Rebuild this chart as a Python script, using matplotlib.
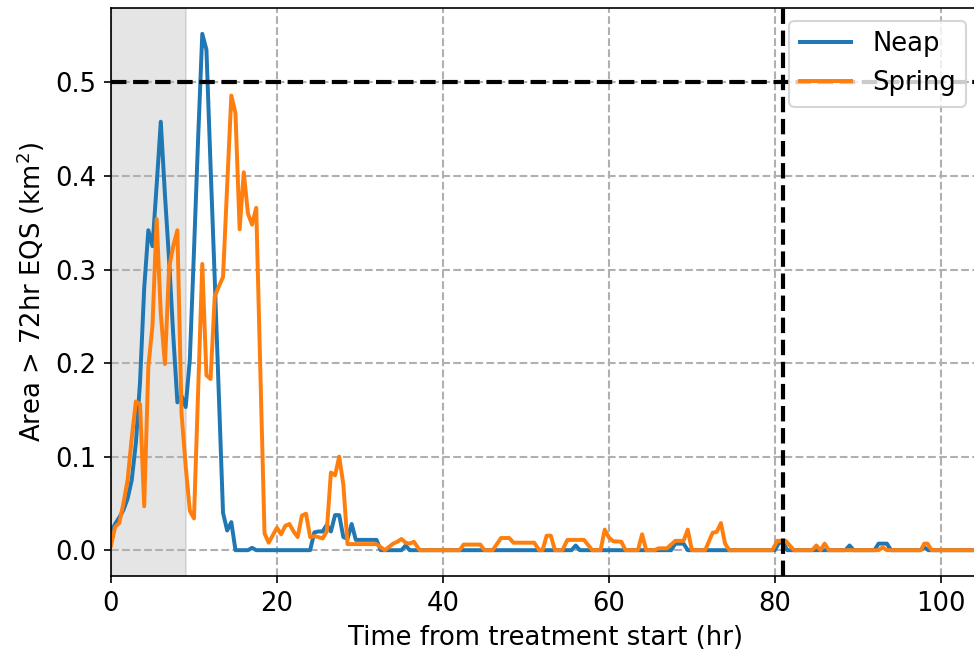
import matplotlib
matplotlib.use("Agg")
import matplotlib.pyplot as plt

# ---- data ----
neap_t = [0.0, 0.5, 1.0, 1.5, 2.0, 2.5, 3.0, 3.5, 4.0, 4.5, 5.0, 5.5, 6.0, 6.5, 7.0,
          7.5, 8.0, 8.5, 9.0, 9.5, 10.0, 10.5, 11.0, 11.5, 12.0, 12.5, 13.0, 13.5,
          14.0, 14.5, 15.0, 16.5, 17.0, 17.5, 24.0, 24.5, 25.0, 25.5, 26.0, 26.5,
          27.0, 27.5, 28.0, 28.5, 29.0, 29.5, 32.0, 32.5, 35.0, 35.5, 36.0, 55.5,
          56.0, 56.5, 67.5, 68.0, 69.0, 69.5, 80.0, 80.5, 81.0, 81.5, 88.5, 89.0,
          89.5, 92.0, 92.5, 93.5, 94.0, 97.5, 98.0, 98.5, 104.5]
neap_v = [0.020, 0.028, 0.035, 0.043, 0.055, 0.075, 0.115, 0.180, 0.280, 0.342, 0.325,
          0.390, 0.458, 0.380, 0.310, 0.230, 0.158, 0.165, 0.153, 0.204, 0.320, 0.440,
          0.552, 0.535, 0.410, 0.290, 0.165, 0.040, 0.021, 0.030, 0.0, 0.0, 0.0025,
          0.0, 0.0, 0.019, 0.020, 0.020, 0.027, 0.020, 0.0375, 0.0375, 0.014, 0.012,
          0.028, 0.011, 0.011, 0.0, 0.0, 0.005, 0.0, 0.0, 0.005, 0.0, 0.0, 0.007,
          0.007, 0.0, 0.0, 0.008, 0.008, 0.0, 0.0, 0.005, 0.0, 0.0, 0.007, 0.007,
          0.0, 0.0, 0.003, 0.0, 0.0]

spring_t = [0.0, 0.5, 1.0, 1.5, 2.0, 2.5, 3.0, 3.5, 4.0, 4.5, 5.0, 5.5, 6.0, 6.5, 7.0,
            7.5, 8.0, 8.5, 9.0, 9.5, 10.0, 10.5, 11.0, 11.5, 12.0, 12.5, 13.0, 13.5,
            14.0, 14.5, 15.0, 15.5, 16.0, 16.5, 17.0, 17.5, 18.0, 18.5, 19.0, 19.5,
            20.0, 20.5, 21.0, 21.5, 22.0, 22.5, 23.0, 23.5, 24.0, 24.5, 25.0, 25.5,
            26.0, 26.5, 27.0, 27.5, 28.0, 28.5, 32.0, 33.0, 34.0, 34.5, 35.0, 35.5,
            36.0, 36.5, 37.2, 42.0, 42.5, 44.5, 45.0, 46.0, 47.0, 48.0, 48.5, 51.0,
            51.6, 52.0, 52.5, 53.0, 53.5, 54.4, 55.0, 57.0, 58.0, 59.0, 59.5, 60.0,
            60.5, 61.5, 62.0, 63.5, 64.0, 64.5, 65.5, 66.0, 67.0, 68.0, 69.0, 69.5,
            70.0, 71.6, 72.5, 73.0, 73.5, 74.0, 74.5, 79.7, 80.3, 81.3, 82.3, 84.5,
            85.0, 85.5, 86.0, 86.5, 92.5, 93.0, 93.5, 97.6, 98.0, 98.4, 98.9, 104.5]
spring_v = [0.005, 0.025, 0.029, 0.050, 0.075, 0.120, 0.159, 0.156, 0.047, 0.196, 0.240,
            0.354, 0.253, 0.199, 0.302, 0.325, 0.342, 0.146, 0.090, 0.042, 0.034, 0.170,
            0.306, 0.187, 0.183, 0.271, 0.282, 0.292, 0.390, 0.486, 0.467, 0.343, 0.404,
            0.360, 0.348, 0.366, 0.190, 0.018, 0.008, 0.016, 0.024, 0.017, 0.026, 0.028,
            0.020, 0.014, 0.037, 0.039, 0.014, 0.015, 0.014, 0.0125, 0.020, 0.083, 0.080,
            0.100, 0.070, 0.0065, 0.0065, 0.0, 0.007, 0.009, 0.012, 0.008, 0.007, 0.009,
            0.0, 0.0, 0.006, 0.006, 0.0, 0.0, 0.013, 0.013, 0.008, 0.008, 0.0, 0.0,
            0.0155, 0.0155, 0.0, 0.0, 0.011, 0.011, 0.0, 0.0, 0.022, 0.0136, 0.0096,
            0.009, 0.0, 0.0, 0.017, 0.0, 0.0, 0.002, 0.002, 0.010, 0.010, 0.022, 0.0,
            0.0, 0.0186, 0.0196, 0.029, 0.007, 0.0, 0.0, 0.010, 0.010, 0.0, 0.0, 0.005,
            0.0, 0.007, 0.0, 0.0, 0.003, 0.0, 0.0, 0.007, 0.007, 0.0, 0.0]

treatment_end = 9.0
threshold = 0.5
cutoff_time = 81.0
x_ticks = [0, 20, 40, 60, 80, 100]
y_ticks = [0.0, 0.1, 0.2, 0.3, 0.4, 0.5]

plt.rcParams['font.family'] = ['DejaVu Sans']
plt.rcParams['font.size'] = 12.4

fig = plt.figure(figsize=(974 / 150, 657 / 150), dpi=150)
ax = fig.add_axes([111 / 974, 1 - 576 / 657, (979 - 111) / 974, (576 - 8) / 657])

ax.axvspan(0, treatment_end, color='gray', alpha=0.2)
ax.plot(neap_t, neap_v, color='#1f77b4', lw=1.9, label='Neap')
ax.plot(spring_t, spring_v, color='#ff7f0e', lw=1.9, label='Spring')
ax.axhline(threshold, color='k', ls='--', lw=2)
ax.axvline(cutoff_time, color='k', ls='--', lw=2)

ax.grid(True, ls='--', color='#b0b0b0', lw=1.0)
ax.set_xlim(0, 104.6)
ax.set_xticks(x_ticks)
ax.set_yticks(y_ticks)
ax.set_xlabel('Time from treatment start (hr)')
ax.set_ylabel('Area > 72hr EQS (km$^2$)')
ax.legend(loc='upper right')

fig.savefig('out.png', dpi=150)
